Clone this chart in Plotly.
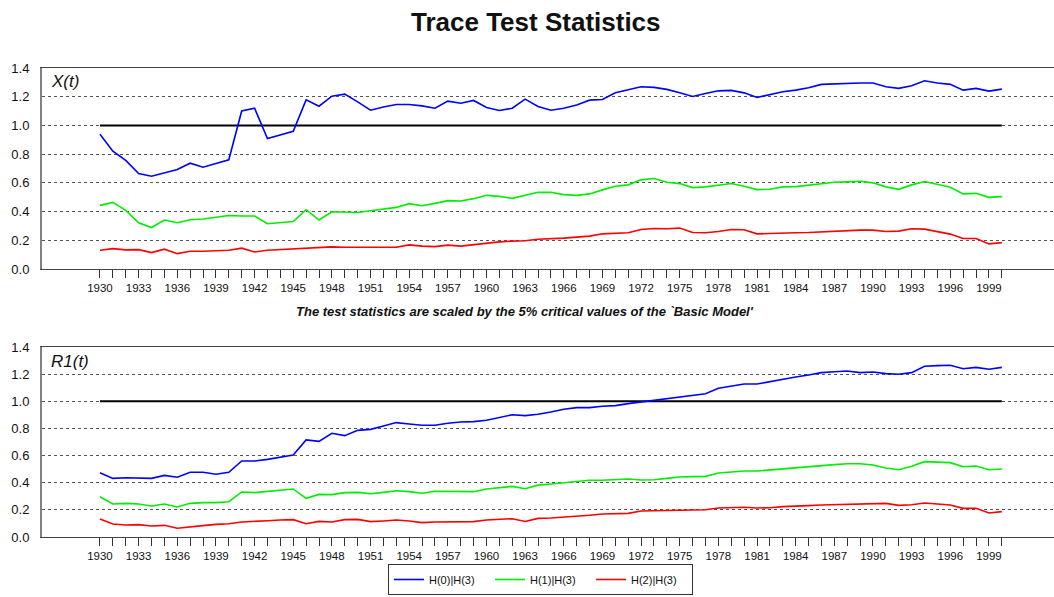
import plotly.graph_objects as go

years = list(range(1930, 2001))

x_h0 = [0.938, 0.821, 0.756, 0.665, 0.646, 0.672, 0.693, 0.737, 0.709, 0.735,
        0.761, 1.101, 1.120, 0.908, 0.933, 0.959, 1.178, 1.134, 1.204, 1.218,
        1.164, 1.106, 1.129, 1.146, 1.146, 1.136, 1.120, 1.169, 1.155, 1.174,
        1.125, 1.104, 1.120, 1.183, 1.132, 1.106, 1.120, 1.143, 1.176, 1.181,
        1.227, 1.248, 1.269, 1.265, 1.251, 1.227, 1.202, 1.223, 1.241, 1.244,
        1.227, 1.195, 1.213, 1.234, 1.246, 1.262, 1.286, 1.290, 1.295, 1.295,
        1.295, 1.269, 1.258, 1.276, 1.311, 1.295, 1.286, 1.246, 1.258, 1.239,
        1.253]
x_h1 = [0.443, 0.464, 0.408, 0.322, 0.289, 0.341, 0.322, 0.343, 0.348, 0.362,
        0.373, 0.369, 0.369, 0.315, 0.322, 0.331, 0.413, 0.341, 0.399, 0.399,
        0.394, 0.406, 0.418, 0.429, 0.455, 0.441, 0.457, 0.476, 0.474, 0.490,
        0.513, 0.506, 0.492, 0.512, 0.534, 0.534, 0.518, 0.513, 0.523, 0.551,
        0.576, 0.586, 0.621, 0.630, 0.604, 0.595, 0.567, 0.572, 0.581, 0.595,
        0.576, 0.553, 0.555, 0.572, 0.574, 0.583, 0.595, 0.604, 0.607, 0.611,
        0.600, 0.572, 0.555, 0.586, 0.609, 0.588, 0.569, 0.523, 0.527, 0.499,
        0.504]
x_h2 = [0.131, 0.142, 0.133, 0.135, 0.114, 0.138, 0.107, 0.124, 0.124, 0.126,
        0.131, 0.145, 0.119, 0.131, 0.135, 0.138, 0.142, 0.147, 0.154, 0.152,
        0.152, 0.152, 0.149, 0.152, 0.168, 0.159, 0.156, 0.166, 0.159, 0.170,
        0.180, 0.189, 0.194, 0.197, 0.207, 0.210, 0.215, 0.222, 0.229, 0.245,
        0.247, 0.252, 0.275, 0.282, 0.280, 0.285, 0.254, 0.252, 0.261, 0.275,
        0.273, 0.245, 0.247, 0.252, 0.252, 0.254, 0.259, 0.261, 0.266, 0.271,
        0.271, 0.261, 0.264, 0.280, 0.278, 0.259, 0.243, 0.212, 0.212, 0.175,
        0.184]

r_h0 = [0.474, 0.432, 0.437, 0.435, 0.432, 0.454, 0.440, 0.477, 0.477, 0.462,
        0.477, 0.560, 0.560, 0.572, 0.590, 0.604, 0.715, 0.705, 0.764, 0.747,
        0.786, 0.793, 0.818, 0.843, 0.833, 0.823, 0.823, 0.838, 0.847, 0.850,
        0.860, 0.882, 0.901, 0.894, 0.904, 0.921, 0.941, 0.953, 0.953, 0.963,
        0.968, 0.983, 0.995, 1.007, 1.024, 1.034, 1.044, 1.056, 1.096, 1.110,
        1.127, 1.127, 1.145, 1.164, 1.179, 1.194, 1.211, 1.218, 1.223, 1.211,
        1.216, 1.204, 1.199, 1.211, 1.258, 1.263, 1.265, 1.240, 1.250, 1.236,
        1.250]
r_h1 = [0.297, 0.243, 0.248, 0.243, 0.228, 0.243, 0.221, 0.248, 0.253, 0.253,
        0.260, 0.332, 0.327, 0.337, 0.346, 0.354, 0.285, 0.314, 0.312, 0.327,
        0.329, 0.319, 0.329, 0.341, 0.334, 0.322, 0.337, 0.337, 0.339, 0.334,
        0.354, 0.366, 0.373, 0.356, 0.382, 0.391, 0.400, 0.410, 0.418, 0.418,
        0.420, 0.427, 0.420, 0.422, 0.432, 0.442, 0.445, 0.447, 0.472, 0.481,
        0.486, 0.486, 0.494, 0.506, 0.511, 0.518, 0.526, 0.533, 0.540, 0.540,
        0.531, 0.508, 0.496, 0.521, 0.555, 0.553, 0.548, 0.518, 0.523, 0.496,
        0.501]
r_h2 = [0.133, 0.096, 0.088, 0.091, 0.081, 0.086, 0.064, 0.076, 0.084, 0.093,
        0.098, 0.111, 0.113, 0.120, 0.125, 0.128, 0.098, 0.115, 0.111, 0.128,
        0.130, 0.113, 0.118, 0.125, 0.118, 0.106, 0.111, 0.113, 0.115, 0.113,
        0.125, 0.130, 0.135, 0.114, 0.137, 0.140, 0.145, 0.155, 0.160, 0.169,
        0.172, 0.174, 0.192, 0.194, 0.197, 0.197, 0.201, 0.201, 0.214, 0.216,
        0.219, 0.214, 0.216, 0.224, 0.226, 0.231, 0.236, 0.238, 0.241, 0.243,
        0.246, 0.248, 0.233, 0.238, 0.251, 0.246, 0.236, 0.211, 0.211, 0.177,
        0.187]

series_names = ["H(0)|H(3)", "H(1)|H(3)", "H(2)|H(3)"]
series_colors = ["#0000FF", "#00EE00", "#FF0000"]
panel_labels = ["X(t)", "R1(t)"]
tick_labels = [str(y) if (y - 1930) % 3 == 0 and y < 2000 else "" for y in years]
y_ticks = [0.0, 0.2, 0.4, 0.6, 0.8, 1.0, 1.2, 1.4]

FONT = "Liberation Sans Narrow, Arial Narrow, Liberation Sans, Arial, sans-serif"

fig = go.Figure()

panels = [
    ("x", "y", [x_h0, x_h1, x_h2], True),
    ("x2", "y2", [r_h0, r_h1, r_h2], False),
]
for xa, ya, data, show in panels:
    # reference line at 1.0
    fig.add_trace(go.Scatter(x=[years[0], years[-1]], y=[1.0, 1.0], mode="lines",
                             line=dict(color="black", width=2), xaxis=xa, yaxis=ya,
                             showlegend=False, hoverinfo="skip"))
    for vals, name, col in zip(data, series_names, series_colors):
        fig.add_trace(go.Scatter(x=years, y=vals, mode="lines", name=name,
                                 line=dict(color=col, width=1.6), xaxis=xa, yaxis=ya,
                                 showlegend=show))

xrange = [1925.5, 2004.05]
xcommon = dict(range=xrange, tickmode="array", tickvals=years, ticktext=tick_labels,
               ticks="outside", ticklen=8, tickwidth=1, tickcolor="#333",
               showline=True, linecolor="#444", linewidth=1, mirror=True,
               showgrid=False, zeroline=False, automargin=False,
               tickfont=dict(family=FONT, size=11.5, color="#111"))
ycommon = dict(range=[0, 1.4], tickvals=y_ticks, ticktext=[f"{v:.1f}" for v in y_ticks],
               ticks="", showline=True, linecolor="#808080", linewidth=2,
               showgrid=True, gridcolor="#555", gridwidth=1, griddash="dot",
               zeroline=False, automargin=False, ticklabelstandoff=8,
               tickfont=dict(family=FONT, size=13, color="#111"))

fig.update_layout(
    width=1054, height=597,
    margin=dict(l=42, r=0, t=0, b=0),
    paper_bgcolor="white", plot_bgcolor="white",
    xaxis=dict(domain=[0, 1], anchor="y", **xcommon),
    yaxis=dict(domain=[1 - 269 / 597, 1 - 68 / 597], anchor="x", **ycommon),
    xaxis2=dict(domain=[0, 1], anchor="y2", **xcommon),
    yaxis2=dict(domain=[1 - 537 / 597, 1 - 347 / 597], anchor="x2", **ycommon),
    showlegend=True,
    legend=dict(orientation="h", x=(388 - 42) / 1012, xanchor="left", y=2 / 597, yanchor="bottom",
                bordercolor="#333", borderwidth=1, bgcolor="white",
                font=dict(family=FONT, size=11, color="#111"),
                entrywidth=56, entrywidthmode="pixels", itemwidth=30,
                tracegroupgap=0),
)

fig.add_annotation(text="<b>Trace Test Statistics</b>", xref="paper", yref="paper",
                   x=(536 - 42) / 1012, y=1 - 22 / 597, xanchor="center", yanchor="middle",
                   showarrow=False, font=dict(family=FONT, size=26, color="#111"))
fig.add_annotation(text="<b><i>The test statistics are scaled by the 5% critical values of the `Basic Model'</i></b>",
                   xref="paper", yref="paper", x=(525 - 42) / 1012, y=1 - 311 / 597,
                   xanchor="center", yanchor="middle", showarrow=False,
                   font=dict(family=FONT, size=13, color="#111"))
for lbl, ytop in zip(panel_labels, [82, 361]):
    fig.add_annotation(text=f"<i>{lbl}</i>", xref="paper", yref="paper",
                       x=(49 - 42) / 1012, y=1 - ytop / 597, xanchor="left", yanchor="middle",
                       showarrow=False, font=dict(family=FONT, size=17, color="#111"))

fig.write_html("out.html")
